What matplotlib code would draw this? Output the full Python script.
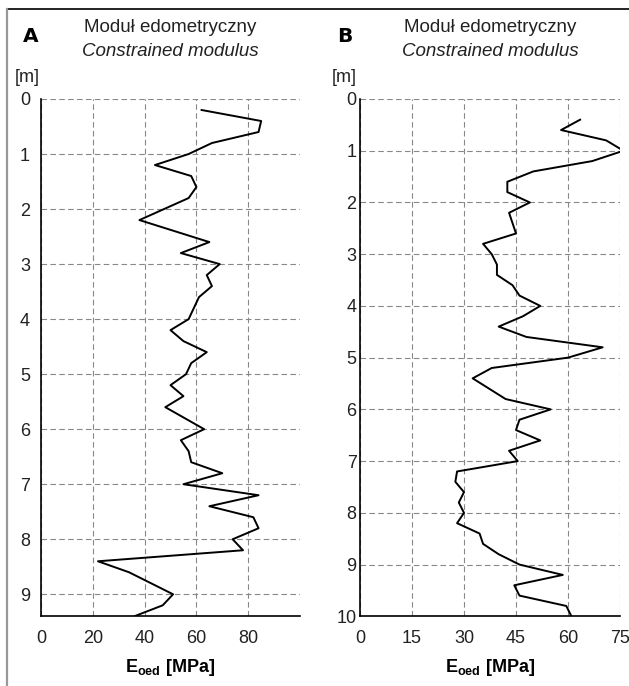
import matplotlib
matplotlib.use('Agg')
import matplotlib.pyplot as plt
from matplotlib.lines import Line2D

# dane
depth_a = [0.2, 0.4, 0.6, 0.8, 1.0, 1.2, 1.4, 1.6, 1.8, 2.2, 2.6, 2.8, 3.0, 3.2, 3.4,
           3.6, 4.0, 4.2, 4.4, 4.6, 4.8, 5.0, 5.2, 5.4, 5.6, 6.0, 6.2, 6.4, 6.6, 6.8,
           7.0, 7.2, 7.4, 7.6, 7.8, 8.0, 8.2, 8.4, 8.6, 9.0, 9.2, 9.4]
eoed_a = [62, 85, 84, 66, 57, 44, 58, 60, 57, 38, 65, 54, 69, 64, 66,
          61, 57, 50, 55, 64, 58, 56, 50, 55, 48, 63, 54, 57, 58, 70,
          55, 84, 65, 82, 84, 74, 78, 22, 34, 51, 47, 36]

depth_b = [0.4, 0.6, 0.8, 1.0, 1.2, 1.4, 1.6, 1.8, 2.0, 2.2, 2.4, 2.6, 2.8, 3.0, 3.2,
           3.4, 3.6, 3.8, 4.0, 4.2, 4.4, 4.6, 4.8, 5.0, 5.2, 5.4, 5.8, 6.0, 6.2, 6.4,
           6.6, 6.8, 7.0, 7.2, 7.4, 7.6, 7.8, 8.0, 8.2, 8.4, 8.6, 8.8, 9.0, 9.2, 9.4,
           9.6, 9.8, 10.0]
eoed_b = [63.5, 58, 71, 76, 67, 50, 42.5, 42.5, 49, 43, 44, 45, 35.5, 38, 39.5,
          39.5, 44, 46, 52, 47, 40, 48, 70, 60, 38, 32.5, 42, 55, 46, 45,
          52, 43, 45.5, 28, 27.5, 30, 28.5, 30, 28, 34.5, 35.5, 40, 46, 58.5, 44.5,
          46, 59.5, 61]

xticks_a = [0, 20, 40, 60, 80]
xticks_b = [0, 15, 30, 45, 60, 75]
yticks_a = list(range(0, 10))
yticks_b = list(range(0, 11))

plt.rcParams['font.family'] = ['Liberation Sans', 'DejaVu Sans']
plt.rcParams['mathtext.fontset'] = 'custom'
plt.rcParams['mathtext.rm'] = 'Liberation Sans'
plt.rcParams['mathtext.bf'] = 'Liberation Sans:bold'

fig = plt.figure(figsize=(6.29, 6.86), dpi=100)

# ramka
fig.add_artist(Line2D([7 / 629, 1], [1 - 9 / 686] * 2, color='#222222', lw=1.4))
fig.add_artist(Line2D([7 / 629] * 2, [0, 1 - 9 / 686], color='#999999', lw=1.6))

ax_a = fig.add_axes([41 / 629, 0.1016, 259 / 629, 0.7541])
ax_b = fig.add_axes([360 / 629, 0.1016, 260 / 629, 0.7541])

panels = [
    (ax_a, depth_a, eoed_a, xticks_a, yticks_a, 100, 9.4, 8),
    (ax_b, depth_b, eoed_b, xticks_b, yticks_b, 75, 10, 2.5),
]

for ax, d, e, xt, yt, xmax, ymax, ypad in panels:
    ax.plot(e, d, color='black', lw=1.4, zorder=3)
    ax.set_xlim(0, xmax)
    ax.set_ylim(ymax, 0)
    ax.set_xticks(xt)
    ax.set_yticks(yt)
    ax.grid(True, color='#888888', lw=0.8, linestyle=(0, (5, 3)))
    ax.spines['top'].set_visible(False)
    ax.spines['right'].set_visible(False)
    ax.spines['left'].set_linewidth(1.2)
    ax.spines['bottom'].set_linewidth(1.2)
    ax.tick_params(axis='both', length=0, labelsize=13, colors='#222222')
    ax.tick_params(axis='x', pad=10)
    ax.tick_params(axis='y', pad=ypad)
    ax.set_xlabel(r'$\mathbf{E_{oed}}$ [MPa]', fontsize=13, fontweight='bold', labelpad=7)

    # tytuły nad panelem
    cx = (ax.get_position().x0 + ax.get_position().x1) / 2
    fig.text(cx, 1 - 27 / 686, 'Moduł edometryczny',
             ha='center', va='center', fontsize=13.5, color='#222222')
    fig.text(cx, 1 - 52 / 686, 'Constrained modulus',
             ha='center', va='center', fontsize=13.5, style='italic', color='#222222')

fig.text(40 / 629, 1 - 78 / 686, '[m]', ha='right', va='center', fontsize=13, color='#222222')
fig.text(357 / 629, 1 - 78 / 686, '[m]', ha='right', va='center', fontsize=13, color='#222222')
fig.text(31 / 629, 1 - 37 / 686, 'A', ha='center', va='center', fontsize=14.5,
         fontweight='heavy', family='DejaVu Sans')
fig.text(345 / 629, 1 - 37 / 686, 'B', ha='center', va='center', fontsize=14.5,
         fontweight='heavy', family='DejaVu Sans')

fig.savefig('out.png', dpi=100)
